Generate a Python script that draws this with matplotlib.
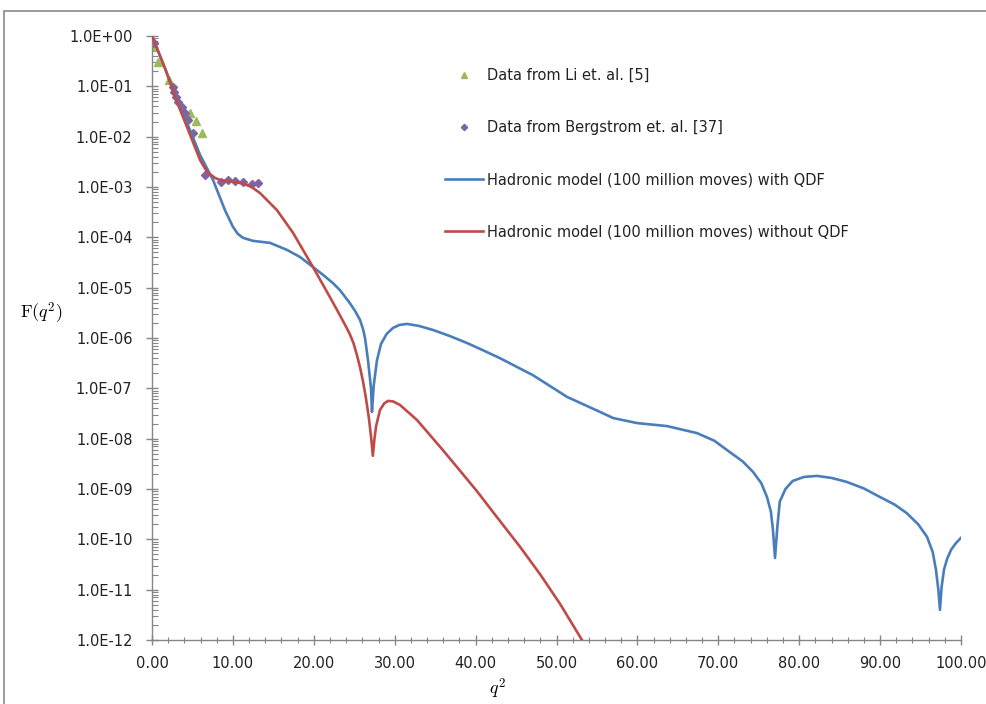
import numpy as np
import matplotlib.pyplot as plt
from matplotlib.patches import Rectangle
from matplotlib.ticker import FixedLocator, LogLocator, NullFormatter, FuncFormatter

# hadronic model with QDF (q^2, log10 F)
qdf_x = [0, 1.6, 3.09, 4.7, 5.93, 7.54, 9.02, 10.0, 10.6, 11.25, 12.48, 14.59, 16.69, 18.29,
         19.9, 21.1, 22.37, 23.24, 24.47, 25.09, 25.71, 26.08, 26.33, 26.7, 27.07, 27.19,
         27.4, 27.8, 28.3, 29.0, 29.79, 30.6, 31.52, 33.0, 34.73, 36.8, 38.94, 41.0, 43.0,
         47.1, 51.3, 55.4, 57.0, 59.95, 63.66, 67.37, 69.5, 71.45, 73.0, 74.29, 75.3, 76.02,
         76.5, 76.76, 77.01, 77.3, 77.6, 78.3, 79.2, 80.6, 82.2, 84.0, 85.9, 88.0, 90.0,
         91.8, 93.3, 94.7, 95.8, 96.5, 96.9, 97.2, 97.4, 97.6, 97.9, 98.3, 98.8, 99.4, 100.0]
qdf_log = [0, -0.636, -1.27, -1.87, -2.36, -2.86, -3.46, -3.79, -3.93, -4.01, -4.07, -4.11, -4.25, -4.39,
           -4.59, -4.74, -4.91, -5.05, -5.31, -5.46, -5.64, -5.82, -6.0, -6.44, -7.0, -7.47,
           -6.95, -6.45, -6.12, -5.92, -5.80, -5.74, -5.72, -5.76, -5.84, -5.96, -6.10, -6.25, -6.40,
           -6.74, -7.17, -7.47, -7.59, -7.69, -7.75, -7.89, -8.04, -8.27, -8.45, -8.66, -8.88, -9.16,
           -9.45, -9.82, -10.37, -9.75, -9.25, -9.0, -8.84, -8.76, -8.74, -8.78, -8.86, -8.99, -9.16,
           -9.31, -9.48, -9.7, -9.95, -10.25, -10.6, -11.0, -11.40, -10.95, -10.6,
           -10.38, -10.2, -10.07, -9.97]

# hadronic model without QDF
noqdf_x = [0, 1.6, 3.09, 4.7, 5.93, 6.8, 7.79, 8.4, 10.0, 11.25, 12.3, 13.35, 15.45, 17.43,
           19.9, 22.0, 23.0, 24.0, 24.47, 24.9, 25.3, 25.71, 26.08, 26.45, 26.8, 27.07, 27.3, 27.5,
           27.7, 28.18, 28.7, 29.17, 29.8, 30.65, 32.76, 35.97, 40.05, 42.5, 45.5, 48.0, 50.43, 53.15]
noqdf_log = [0, -0.64, -1.31, -1.96, -2.46, -2.70, -2.82, -2.86, -2.90, -2.93, -3.0, -3.12, -3.46, -3.91,
             -4.59, -5.19, -5.48, -5.78, -5.93, -6.1, -6.32, -6.58, -6.86, -7.2, -7.58, -7.95, -8.34, -8.0,
             -7.75, -7.43, -7.3, -7.25, -7.26, -7.33, -7.63, -8.23, -9.02, -9.53, -10.15, -10.7, -11.28, -12.0]

# Li et al. [5]
li_x = [0.06, 0.70, 2.16, 4.70, 5.40, 6.14]
li_y = [0.60, 0.31, 0.134, 0.030, 0.0204, 0.012]

# Bergstrom et al. [37]
berg_x = [0.25, 2.56, 2.72, 2.97, 3.25, 3.67, 4.08, 4.49, 5.10, 6.61, 8.53, 9.39, 10.30,
          11.31, 12.32, 13.14]
berg_log = [-0.133, -1.007, -1.107, -1.206, -1.305, -1.405, -1.53, -1.669, -1.927, -2.762,
            -2.895, -2.861, -2.871, -2.901, -2.94, -2.911]

blue = '#4A7EBB'
red = '#BE4B48'
green = '#9BBB59'
purple = '#8064A2'
axis_grey = '#868686'

fig = plt.figure(figsize=(9.87, 7.04), dpi=100)
ax = fig.add_axes([152/987, 1 - 640/704, (961 - 152)/987, (640 - 36)/704])

ax.plot(li_x, li_y, linestyle='none', marker='^', color=green, markersize=6,
        label='Data from Li et. al. [5]', zorder=2)
ax.plot(berg_x, 10**np.array(berg_log), linestyle='none', marker='D', color=purple,
        markersize=4, label='Data from Bergstrom et. al. [37]', zorder=2)
ax.plot(qdf_x, 10**np.array(qdf_log), color=blue, lw=1.9,
        label='Hadronic model (100 million moves) with QDF', zorder=3)
ax.plot(noqdf_x, 10**np.array(noqdf_log), color=red, lw=1.9,
        label='Hadronic model (100 million moves) without QDF', zorder=4)

ax.set_yscale('log')
ax.set_ylim(1e-12, 1)
ax.set_xlim(0, 100)

ax.xaxis.set_major_locator(FixedLocator(np.arange(0, 101, 10)))
ax.xaxis.set_minor_locator(FixedLocator(np.arange(0, 101, 2)))
ax.xaxis.set_major_formatter(FuncFormatter(lambda v, p: f'{v:.2f}'))
ax.yaxis.set_major_locator(FixedLocator([10.0**k for k in range(-12, 1)]))
ax.yaxis.set_minor_locator(LogLocator(base=10, subs=np.arange(2, 10), numticks=30))
ax.yaxis.set_minor_formatter(NullFormatter())
ax.yaxis.set_major_formatter(FuncFormatter(lambda v, p: f'1.0E{int(round(np.log10(v))):+03d}'))

for s in ['top', 'right']:
    ax.spines[s].set_visible(False)
for s in ['left', 'bottom']:
    ax.spines[s].set_color(axis_grey)
    ax.spines[s].set_linewidth(1.0)

ax.tick_params(axis='y', which='major', direction='inout', length=8, width=1,
               color=axis_grey, labelsize=10.5, labelcolor='#222222', pad=10)
ax.tick_params(axis='y', which='minor', direction='in', length=4, width=0.8, color=axis_grey)
ax.tick_params(axis='x', which='major', direction='inout', length=7, width=1,
               color=axis_grey, labelsize=10.5, labelcolor='#222222', pad=8)
ax.tick_params(axis='x', which='minor', direction='inout', length=4, width=0.8, color=axis_grey)

fig.text(20/987, 1 - 313/704, r'$\mathrm{F}(q^{2})$', fontsize=13, va='center', ha='left',
         math_fontfamily='cm')
fig.text(497/987, 1 - 689/704, r'$q^{2}$', fontsize=13, va='center', ha='center',
         math_fontfamily='cm')

ax.legend(loc='upper left', bbox_to_anchor=(445/987, 1 - 68/704),
          bbox_transform=fig.transFigure, frameon=False, fontsize=10.5,
          handlelength=2.6, handletextpad=0.3, labelspacing=2.55,
          borderpad=0, borderaxespad=0, markerscale=0.8, labelcolor='#222222')

fig.add_artist(Rectangle((4/987, -0.1), 1.2, 1.1 - 11/704, transform=fig.transFigure,
                         fill=False, edgecolor='#8a8a8a', lw=1.2))

fig.savefig('out.png', dpi=100)
